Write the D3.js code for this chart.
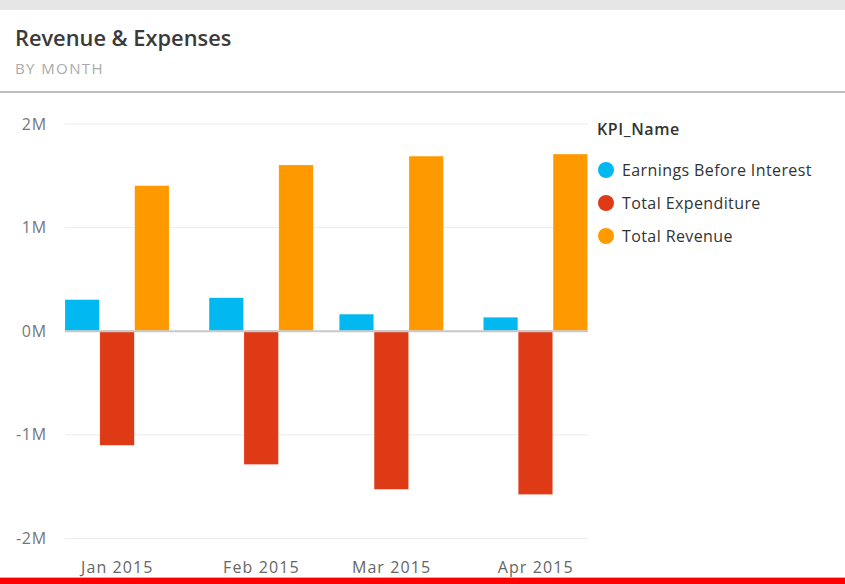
<!DOCTYPE html>
<html>
<head>
<meta charset="utf-8">
<script src="https://cdn.jsdelivr.net/npm/d3@7"></script>
<style>
  html, body { margin: 0; padding: 0; background: #fff; }
  svg { display: block; }
</style>
</head>
<body>
<script>
// Monthly KPI values (in dollars)
const months = [
  Date.UTC(2015, 0, 1),
  Date.UTC(2015, 1, 1),
  Date.UTC(2015, 2, 1),
  Date.UTC(2015, 3, 1)
];
const kpiNames = ["Earnings Before Interest", "Total Expenditure", "Total Revenue"];
const earnings    = [300000, 318000, 160000, 130000];
const expenditure = [-1105000, -1290000, -1530000, -1580000];
const revenue     = [1400000, 1600000, 1685000, 1705000];
const yTicks = [-2000000, -1000000, 0, 1000000, 2000000];
const colors = ["#01B8F0", "#DF3A16", "#FE9A00"];

const seriesValues = [earnings, expenditure, revenue];

const W = 845, H = 584;
const svg = d3.select("body").append("svg").attr("width", W).attr("height", H);

// page chrome
svg.append("rect").attr("x", 0).attr("y", 0).attr("width", W).attr("height", 10).attr("fill", "#e6e6e6");
svg.append("rect").attr("x", 0).attr("y", 91).attr("width", W).attr("height", 2).attr("fill", "#bdbdbd");
svg.append("rect").attr("x", 0).attr("y", 577).attr("width", W).attr("height", 1).attr("fill", "#f5a0a0");
svg.append("rect").attr("x", 0).attr("y", 578).attr("width", W).attr("height", 6).attr("fill", "#ff0000");

const fontUI = "'Open Sans', 'Noto Sans', sans-serif";

svg.append("text").attr("x", 15).attr("y", 46)
  .attr("font-family", fontUI).attr("font-weight", 600)
  .attr("font-size", 21.8).attr("fill", "#3a3a3a").text("Revenue & Expenses");
svg.append("text").attr("x", 15).attr("y", 74)
  .attr("font-family", fontUI).attr("letter-spacing", 1.4)
  .attr("font-size", 15).attr("fill", "#aaa").text("BY MONTH");

// scales: continuous time axis, bar groups centred on the month start
const dayMs = 864e5;
const padDays = 11.25;
const x = d3.scaleUtc()
  .domain([months[0] - padDays * dayMs, months[months.length - 1] + padDays * dayMs])
  .range([65, 588]);
const y = d3.scaleLinear().domain([-2000000, 2000000]).range([538, 123.5]);

// gridlines
const g = svg.append("g");
g.selectAll("line.grid").data(yTicks.filter(t => t !== 0)).join("line")
  .attr("x1", 65).attr("x2", 588)
  .attr("y1", d => y(d) + 0.5).attr("y2", d => y(d) + 0.5)
  .attr("stroke", "#ececec").attr("stroke-width", 1);

// y-axis labels
const fmt = d => (d / 1e6) + "M";
g.selectAll("text.ytick").data(yTicks).join("text")
  .attr("x", 47).attr("y", d => y(d) + 6)
  .attr("text-anchor", "end")
  .attr("font-family", fontUI).attr("font-size", 16).attr("letter-spacing", 0.8)
  .attr("fill", "#777")
  .text(fmt);

// bars
const groupWidth = x(months[0] + padDays * dayMs) - x(months[0] - padDays * dayMs);
const barW = groupWidth / kpiNames.length;
seriesValues.forEach((vals, si) => {
  g.selectAll("rect.s" + si).data(vals).join("rect")
    .attr("x", (d, i) => x(months[i] - padDays * dayMs) + si * barW)
    .attr("width", barW - 0.5)
    .attr("y", d => Math.min(y(d), y(0)))
    .attr("height", d => Math.abs(y(d) - y(0)))
    .attr("fill", colors[si])
    .attr("stroke", "#fff").attr("stroke-opacity", 0.35).attr("stroke-width", 0.5);
});

// zero line
g.append("line").attr("x1", 65).attr("x2", 588)
  .attr("y1", y(0) + 0.5).attr("y2", y(0) + 0.5)
  .attr("stroke", "#c8c8c8").attr("stroke-width", 2);

// x-axis labels
const xFmt = d3.utcFormat("%b %Y");
g.selectAll("text.xtick").data(months).join("text")
  .attr("x", d => x(d)).attr("y", 573)
  .attr("text-anchor", "middle")
  .attr("font-family", fontUI).attr("font-size", 16).attr("letter-spacing", 1.1)
  .attr("fill", "#666")
  .text(d => xFmt(new Date(d)));

// legend
const lg = svg.append("g");
lg.append("text").attr("x", 597).attr("y", 135)
  .attr("font-family", fontUI).attr("font-size", 16).attr("font-weight", 600)
  .attr("letter-spacing", 0.6)
  .attr("fill", "#333").text("KPI_Name");
kpiNames.forEach((name, i) => {
  const cy = 170 + i * 33;
  lg.append("circle").attr("cx", 606).attr("cy", cy).attr("r", 8).attr("fill", colors[i]);
  lg.append("text").attr("x", 622).attr("y", cy + 5.5)
    .attr("font-family", fontUI).attr("font-size", 16).attr("letter-spacing", 0.4)
    .attr("fill", "#333").text(name);
});
</script>
</body>
</html>
